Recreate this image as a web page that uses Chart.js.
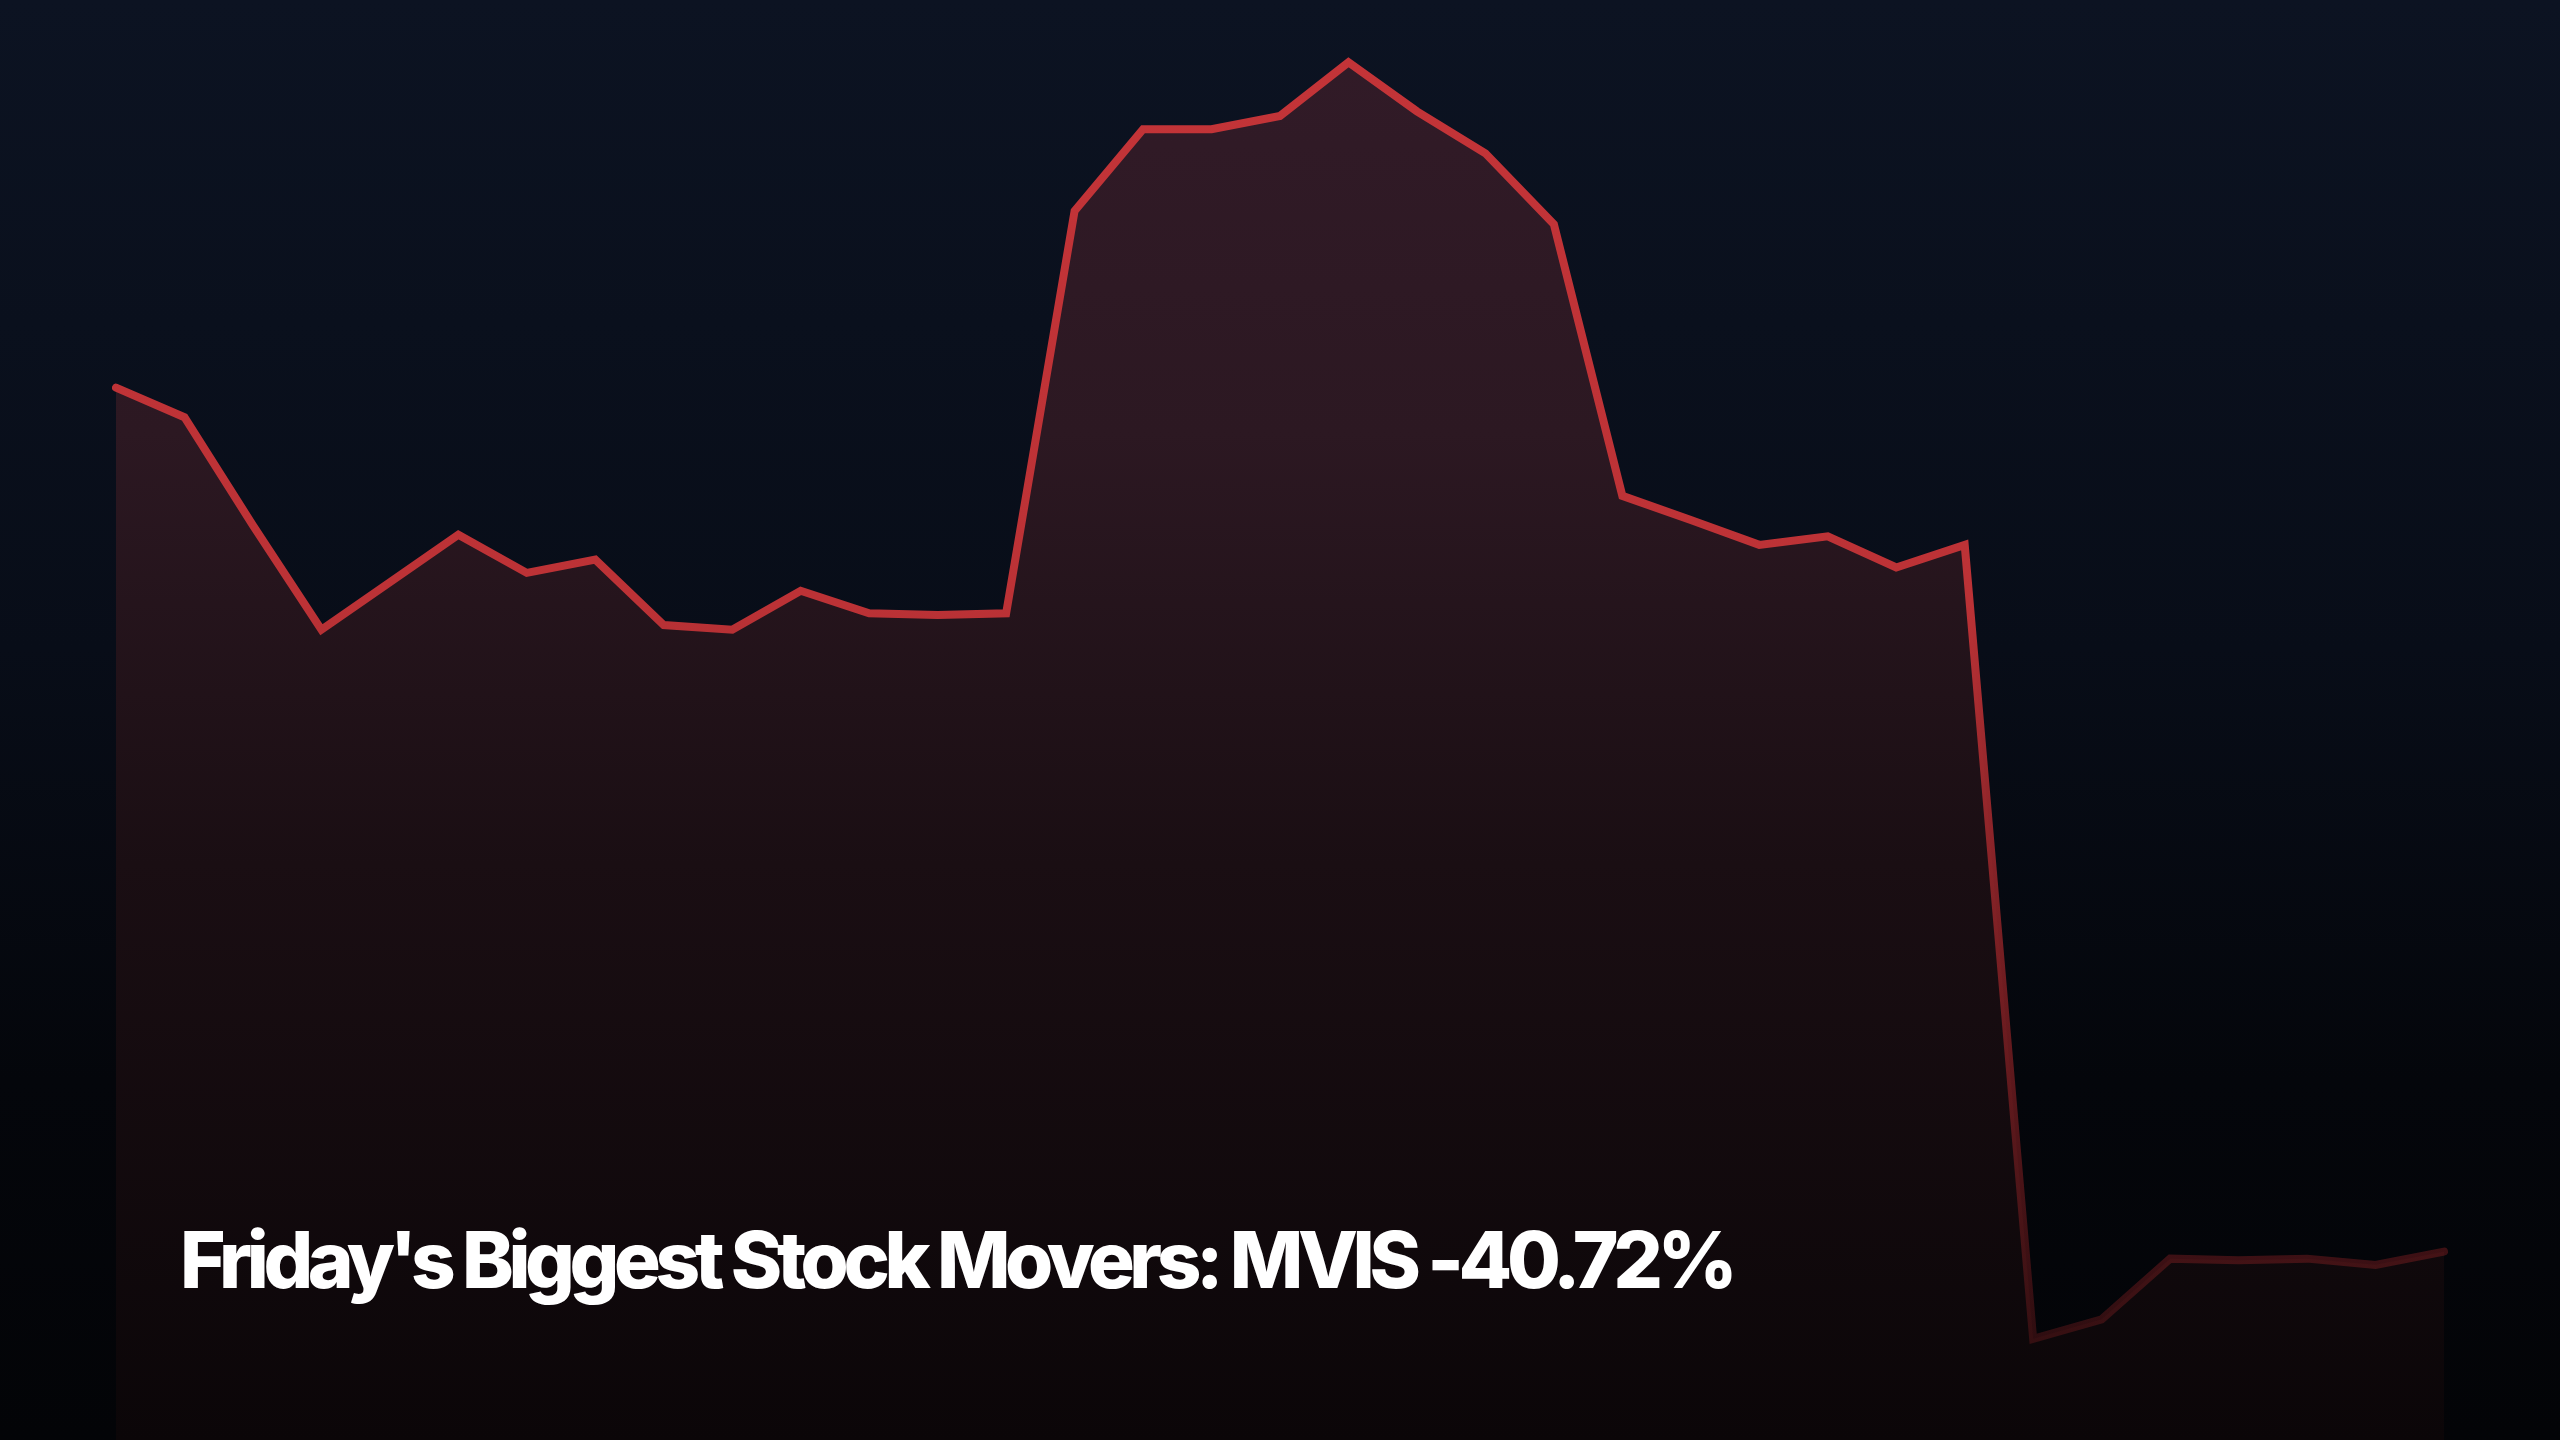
<!DOCTYPE html>
<html>
<head>
<meta charset="utf-8">
<script src="https://cdn.jsdelivr.net/npm/chart.js@4"></script>
<style>
    html, body {
        margin: 0;
        padding: 0;
        width: 2560px;
        height: 1440px;
        overflow: hidden;
    }
    body {
        background: linear-gradient(to bottom, #0c1322 0%, #080d18 45%, #04060b 75%, #030407 100%);
        position: relative;
        font-family: Inter, "Noto Sans", sans-serif;
    }
    #wrap {
        position: absolute;
        left: 0;
        top: 0;
        width: 2560px;
        height: 1440px;
    }
    #title {
        position: absolute;
        left: 180px;
        top: 1212px;
        color: #ffffff;
        font-size: 78px;
        font-weight: 800;
        letter-spacing: -5.4px;
        white-space: nowrap;
    }
</style>
</head>
<body>
<div id="wrap"><canvas id="myChart" width="2560" height="1440"></canvas></div>
<div id="title">Friday's Biggest Stock Movers: MVIS -40.72%</div>
<script>
// Datos del gráfico
const labels = [
    '9:30', '9:40', '9:50', '10:00', '10:10', '10:20', '10:30', '10:40', '10:50',
    '11:00', '11:10', '11:20', '11:30', '11:40', '11:50', '12:00', '12:10', '12:20',
    '12:30', '12:40', '12:50', '13:00', '13:10', '13:20', '13:30', '13:40', '13:50',
    '14:00', '14:10', '14:20', '14:30', '14:40', '14:50', '15:00', '15:10'
];
const prices = [
    2.702, 2.664, 2.525, 2.391, 2.452, 2.513, 2.464, 2.481, 2.397,
    2.391, 2.441, 2.412, 2.410, 2.412, 2.929, 3.034, 3.034, 3.051,
    3.120, 3.057, 3.003, 2.912, 2.563, 2.532, 2.500, 2.511, 2.471,
    2.500, 1.480, 1.505, 1.583, 1.581, 1.583, 1.575, 1.592
];
const yMin = 1.35;
const yMax = 3.20;

// Degradado de la línea
function lineGradient(context) {
    const area = context.chart.chartArea;
    if (!area) return '#c43438';
    const g = context.chart.ctx.createLinearGradient(0, area.top, 0, area.bottom);
    g.addColorStop(0, 'rgba(196, 52, 56, 1)');
    g.addColorStop(0.42, 'rgba(188, 50, 54, 1)');
    g.addColorStop(0.7, 'rgba(150, 36, 40, 0.7)');
    g.addColorStop(1, 'rgba(120, 28, 30, 0.25)');
    return g;
}

// Degradado del relleno
function fillGradient(context) {
    const area = context.chart.chartArea;
    if (!area) return '#2a1620';
    const g = context.chart.ctx.createLinearGradient(0, area.top, 0, area.bottom);
    g.addColorStop(0, '#321b28');
    g.addColorStop(0.3, '#2c1822');
    g.addColorStop(0.6, '#1a0e13');
    g.addColorStop(1, '#0b0608');
    return g;
}

const ctx = document.getElementById('myChart').getContext('2d');
const myChart = new Chart(ctx, {
    type: 'line',
    data: {
        labels: labels,
        datasets: [{
            data: prices,
            borderColor: lineGradient,
            backgroundColor: fillGradient,
            borderWidth: 8,
            borderCapStyle: 'round',
            borderJoinStyle: 'miter',
            pointRadius: 0,
            tension: 0,
            fill: 'start'
        }]
    },
    options: {
        responsive: false,
        animation: false,
        layout: {
            padding: { left: 116, right: 116, top: 0, bottom: 0 }
        },
        plugins: {
            legend: { display: false },
            tooltip: { enabled: false }
        },
        scales: {
            x: { display: false, offset: false },
            y: { display: false, min: yMin, max: yMax }
        }
    }
});
</script>
</body>
</html>
